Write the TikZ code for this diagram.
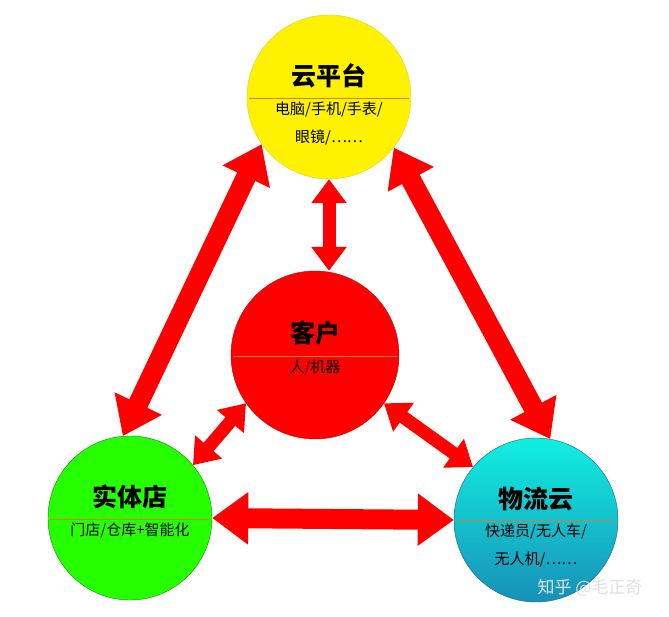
\documentclass[tikz,border=0pt]{standalone}
\usepackage{fontspec}
\newfontfamily\cjk{Noto Sans CJK SC}
\usetikzlibrary{arrows.meta,backgrounds}
\definecolor{cyantop}{HTML}{10F0E0}
\definecolor{cyanbot}{HTML}{1890B8}
\begin{document}
\begin{tikzpicture}[x=1pt,y=-1pt,
  bigarrow/.style={draw=red,line width=20pt,{Triangle[length=36pt,width=50pt]}-{Triangle[length=36pt,width=50pt]}},
  smallarrow/.style={draw=red,line width=13pt,{Triangle[length=24pt,width=34pt]}-{Triangle[length=24pt,width=34pt]}},
  ttl/.style={font=\cjk\bfseries\fontsize{25}{27}\selectfont,inner sep=0},
  sub/.style={font=\cjk\fontsize{15}{28}\selectfont,align=center,inner sep=0,anchor=north},
  divider/.style={draw=brown!70!orange,line width=0.8pt},
  ball/.style={circle,inner sep=0,minimum size=164pt}]
\useasboundingbox (0,0) rectangle (669,617);
% circles
\node[ball,fill=yellow,draw=yellow!85!black] (cloud) at (329,97) {};
\node[ball,minimum size=168pt,fill=red,draw=red!75!black] (cust) at (315,355) {};
\node[ball,fill=green!80!lime,draw=green!55!black] (store) at (130,518) {};
\node[ball,top color=cyantop,bottom color=cyanbot,draw=cyanbot!70!black] (logi) at (536,520) {};
% arrows
\begin{pgfonlayer}{background}
\fill[white] (0,0) rectangle (669,617);
\draw[bigarrow] (store.95) -- (cloud.215);
\draw[bigarrow] (cloud.322) -- (logi.80);
\draw[bigarrow] (store.east) -- (logi.west);
\draw[smallarrow] (cloud.south) -- (cloud.south |- cust.north);
\draw[smallarrow] (cust.215) -- (store.40);
\draw[smallarrow] (cust.325) -- (logi.140);
\end{pgfonlayer}
% texts
\node[ttl] (t1) at (329,76) {云平台};
\draw[divider] (249,98) -- (409,98);
\node[sub] (s1) at (329,102) {电脑/手机/手表/\\眼镜/……};
\node[ttl] (t2) at (315,333) {客户};
\draw[divider] (233,356) -- (397,356);
\node[sub] (s2) at (315,360) {人/机器};
\node[ttl] (t3) at (130,497) {实体店};
\draw[divider] (50,519) -- (210,519);
\node[sub] (s3) at (130,523) {门店/仓库+智能化};
\node[ttl] (t4) at (536,499) {物流云};
\draw[divider] (457,521) -- (615,521);
\node[sub] (s4) at (536,524) {快递员/无人车/\\无人机/……};
\node[font=\cjk\fontsize{17}{19}\selectfont,text=black!12] (wm) at (590,588) {知乎 @毛正奇};
\end{tikzpicture}
\end{document}
